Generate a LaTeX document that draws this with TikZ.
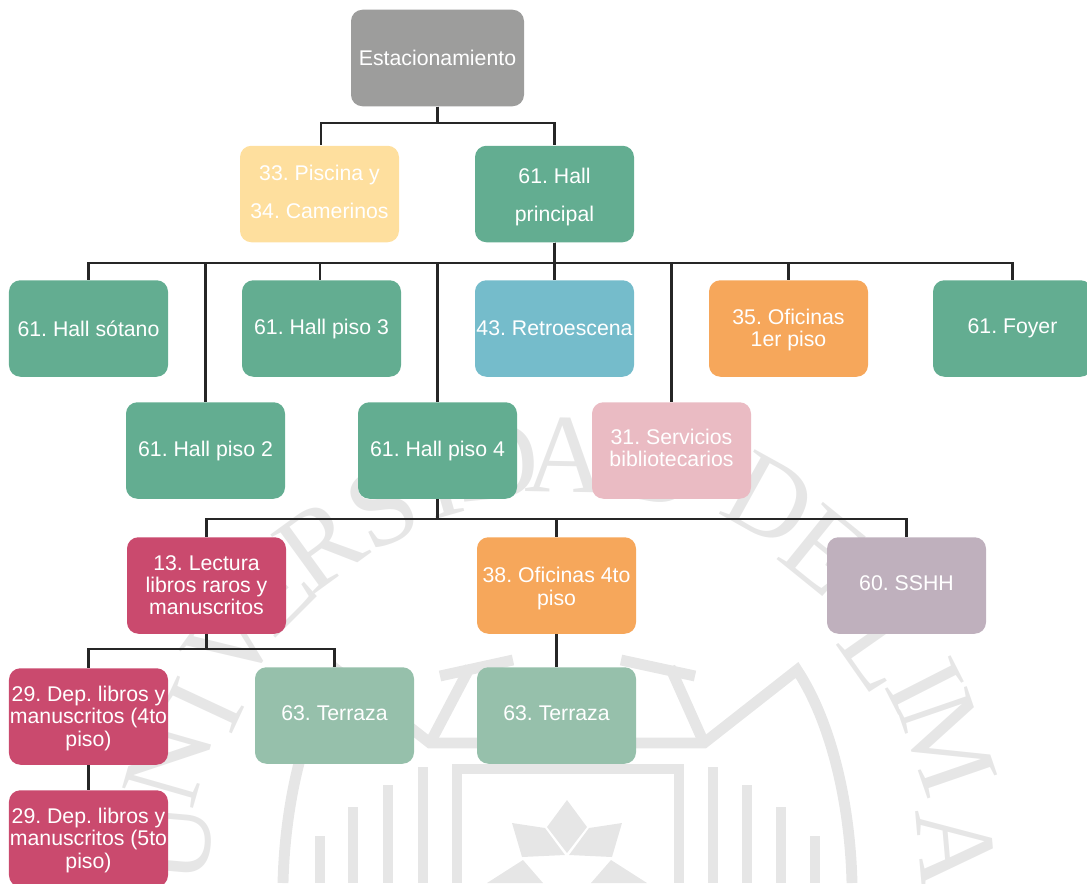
\documentclass[tikz,border=0pt]{standalone}
\usepackage{fontspec}
\setmainfont{Liberation Sans}
\newfontfamily\sealfont{Liberation Serif}
\definecolor{sealgray}{HTML}{E6E6E6}
\definecolor{linegray}{HTML}{262626}
\definecolor{parkgray}{HTML}{9D9D9C}
\definecolor{poolyellow}{HTML}{FEDF9E}
\definecolor{hallgreen}{HTML}{63AD91}
\definecolor{stageblue}{HTML}{75BCCB}
\definecolor{officeorange}{HTML}{F6A75B}
\definecolor{servicepink}{HTML}{EABBC3}
\definecolor{bookred}{HTML}{CA4A6E}
\definecolor{wcmauve}{HTML}{BFB0BD}
\definecolor{terracegreen}{HTML}{96C0AB}
\newcommand{\pushdown}[1]{\rule{0pt}{#1pt}}
\newcommand{\pushup}[1]{\rule[-#1pt]{0pt}{0pt}}
\tikzset{
  room/.style={rounded corners=6.5pt, minimum width=3.18cm, minimum height=1.93cm,
    inner sep=0pt, text=white, align=center, font=\fontsize{12.1}{12.6}\selectfont\frenchspacing},
  link/.style={draw=linegray, line width=1.35pt},
  sealline/.style={draw=sealgray, line width=6.2pt},
  sealletter/.style={text=sealgray, inner sep=0pt, font=\sealfont\fontsize{64}{64}\selectfont}
}
\begin{document}
\begin{tikzpicture}[x=0.2mm, y=-0.2mm]
\clip (0,0) rectangle (1087,883);
% watermark
\foreach \px/\py/\ang/\ltr [count=\i] in {174/843/85/U, 168/762/74/N, 205/705/65/I, 232/640/54/V,
    272/590/45/E, 320/545/36/R, 383/507/26/S, 440/480/16/I, 498/462/6/D, 566/455/-1/A, 658/465/-10/D,
    770/500/-29/D, 824/550/-39/E, 884/650/-55/L, 925/685/-63/I, 948/743/-71/M, 956/848/-85/A}
  \node [sealletter, rotate=\ang] (seal\i) at (\px,\py) {\ltr};
\draw [sealline, line join=miter] (283,883) .. controls (285,800) and (305,720) .. (337,670)
  -- (430,743) -- (704,743) -- (797,670) .. controls (830,720) and (850,800) .. (852,883);
\draw [sealline] (430,743) -- (470,667);
\draw [sealline] (704,743) -- (670,667);
\draw [sealline] (440,676) -- (513,660);
\draw [sealline] (621,660) -- (695,676);
\draw [sealline] (457,883) -- (457,769) -- (679,769) -- (679,883);
\foreach \bx/\by in {320/836, 353/807, 388/785, 423/767, 713/767, 747/785, 781/807, 815/836}
  \draw [sealline] (\bx,\by) -- (\bx,883);
\fill [sealgray] (567,800) -- (587,827) -- (567,853) -- (547,827) -- cycle;
\fill [sealgray] (512,823) -- (545,828) -- (565,855) -- (522,857) -- cycle;
\fill [sealgray] (622,823) -- (589,828) -- (569,855) -- (612,857) -- cycle;
\fill [sealgray] (487,883) -- (523,860) -- (543,883) -- cycle;
\fill [sealgray] (647,883) -- (611,860) -- (591,883) -- cycle;
% rooms
\node [room, fill=parkgray, minimum width=3.46cm] (parking) at (437.5,58) {Estacionamiento};
\node [room, fill=poolyellow] (pool) at (319.5,194) {33. Piscina y\\[9pt]34. Camerinos\pushup{2.5}};
\node [room, fill=hallgreen] (mainhall) at (554.5,194) {\pushdown{12.1}61. Hall\\[9pt]principal};
\node [room, fill=hallgreen] (basement) at (88.5,328.5) {61. Hall sótano};
\node [room, fill=hallgreen] (floor3) at (321.5,328.5) {61. Hall piso 3};
\node [room, fill=stageblue] (backstage) at (554.5,328.5) {43. Retroescena};
\node [room, fill=officeorange] (office1) at (788.5,328.5) {\pushdown{10}35. Oficinas\\1er piso};
\node [room, fill=hallgreen] (foyer) at (1012.5,328.5) {\raisebox{3pt}{61. Foyer}};
\node [room, fill=hallgreen] (floor2) at (205.5,450.5) {61. Hall piso 2};
\node [room, fill=hallgreen] (floor4) at (437.5,450.5) {61. Hall piso 4};
\node [room, fill=servicepink] (library) at (671.5,450.5) {31. Servicios\\bibliotecarios\pushup{3.4}};
\node [room, fill=bookred] (reading) at (206.5,585.5) {13. Lectura\\libros raros y\\manuscritos};
\node [room, fill=officeorange] (office4) at (556.5,585.5) {\pushdown{12.2}38. Oficinas 4to\\piso};
\node [room, fill=wcmauve] (toilets) at (906.5,585.5) {60. SSHH\pushup{2.5}};
\node [room, fill=bookred] (deposit4) at (88.5,716.5) {\pushdown{11}29. Dep. libros y\\manuscritos (4to\\piso)};
\node [room, fill=terracegreen] (terrace1) at (334.5,715.5) {63. Terraza\pushup{2.5}};
\node [room, fill=terracegreen] (terrace2) at (556.5,715.5) {63. Terraza\pushup{2.5}};
\node [room, fill=bookred] (deposit5) at (88.5,838.5) {\pushdown{11}29. Dep. libros y\\manuscritos (5to\\piso)};
% buses
\coordinate (parkbus) at (437.5,123);
\coordinate (hallbus) at (554.5,263);
\coordinate (floorbus) at (437.5,519);
\coordinate (readbus) at (206.5,649);
% links
\draw [link] (parking.south) -- (parkbus) -| ([xshift=0.8pt]pool.north);
\draw [link] (parking.south) -- (parkbus) -| (mainhall.north);
\draw [link] (mainhall.south) -- (hallbus) -| (basement.north);
\draw [link] (mainhall.south) -- (hallbus) -| (floor2.north);
\draw [link] (mainhall.south) -- (hallbus) -| ([xshift=-0.8pt]floor3.north);
\draw [link] (mainhall.south) -- (hallbus) -| (floor4.north);
\draw [link] (mainhall.south) -- (backstage.north);
\draw [link] (mainhall.south) -- (hallbus) -| (library.north);
\draw [link] (mainhall.south) -- (hallbus) -| (office1.north);
\draw [link] (mainhall.south) -- (hallbus) -| (foyer.north);
\draw [link] (floor4.south) -- (floorbus) -| (reading.north);
\draw [link] (floor4.south) -- (floorbus) -| (office4.north);
\draw [link] (floor4.south) -- (floorbus) -| (toilets.north);
\draw [link] (reading.south) -- (readbus) -| (deposit4.north);
\draw [link] (reading.south) -- (readbus) -| (terrace1.north);
\draw [link] (office4.south) -- (terrace2.north);
\draw [link] (deposit4.south) -- (deposit5.north);
\end{tikzpicture}
\end{document}
